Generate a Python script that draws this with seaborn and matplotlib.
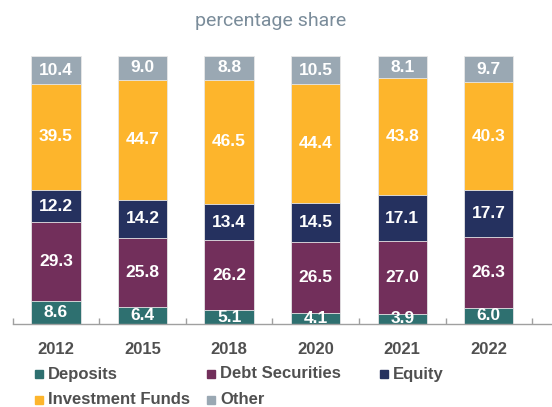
import numpy as np
import pandas as pd
import matplotlib
matplotlib.use("Agg")
import matplotlib.pyplot as plt
import seaborn as sns
from matplotlib.patches import Rectangle

years = ["2012", "2015", "2018", "2020", "2021", "2022"]
deposits = [8.6, 6.4, 5.1, 4.1, 3.9, 6.0]
debt_securities = [29.3, 25.8, 26.2, 26.5, 27.0, 26.3]
equity = [12.2, 14.2, 13.4, 14.5, 17.1, 17.7]
investment_funds = [39.5, 44.7, 46.5, 44.4, 43.8, 40.3]
other = [10.4, 9.0, 8.8, 10.5, 8.1, 9.7]

series_names = ["Deposits", "Debt Securities", "Equity", "Investment Funds", "Other"]
series_vals = [deposits, debt_securities, equity, investment_funds, other]
colors = ["#2e7070", "#722f5b", "#25315f", "#fdb52c", "#9aa8b3"]

sns.set_theme(style="white")
plt.rcParams['font.family'] = ['Liberation Sans', 'DejaVu Sans']

W, H = 552, 407
fig = plt.figure(figsize=(W / 100, H / 100), dpi=100)
ax = fig.add_axes([0.023, 0.204, 0.977, 0.658])

vals = np.array(series_vals)
cum = np.cumsum(vals, axis=0)
bottoms = cum - vals

# draw cumulative bars from top series down so lower ones overlay
for i in range(len(series_names) - 1, -1, -1):
    df = pd.DataFrame({"year": years, "value": cum[i]})
    sns.barplot(data=df, x="year", y="value", color=colors[i], width=0.57,
                saturation=1, ax=ax, edgecolor="#e8e8e8", linewidth=0.6)

for i in range(len(series_names)):
    for j in range(len(years)):
        ax.text(j, bottoms[i, j] + vals[i, j] / 2, f"{vals[i, j]:.1f}",
                ha="center", va="center", color="white", fontsize=12.5,
                fontweight="bold", clip_on=True)

ax.set_xlim(-0.5, 5.73)
ax.set_ylim(0, 100)
ax.set_xlabel("")
ax.set_ylabel("")
ax.set_yticks([])
for s in ["top", "right", "left"]:
    ax.spines[s].set_visible(False)
ax.spines["bottom"].set_color("#a0a0a0")
ax.spines["bottom"].set_linewidth(1.0)

ax.set_xticks(range(len(years)))
ax.set_xticklabels(years, fontsize=12, fontweight="bold", color="#505050")
ax.tick_params(axis="x", which="major", length=0, pad=13)
ax.set_xticks(np.arange(-0.5, 5.6, 1.0), minor=True)
ax.tick_params(axis="x", which="minor", direction="in", length=4, width=1,
               color="#a0a0a0", bottom=True)

fig.text(271 / W, 1 - 21 / H, "percentage share", ha="center", va="center",
         fontsize=14, color="#7a8c9a", family="Roboto")

# manual legend laid out like the reference (row-wise, fixed columns)
leg_pos = [(35, 374), (207, 374), (380, 374), (35, 400), (207, 400)]
for (px, py), name, c in zip(leg_pos, series_names, colors):
    fig.patches.append(Rectangle((px / W, 1 - (py + 4) / H), 8 / W, 8 / H,
                                 transform=fig.transFigure, color=c,
                                 figure=fig))
    fig.text((px + 13) / W, 1 - py / H, name, ha="left", va="center",
             fontsize=12, fontweight="bold", color="#505050")

fig.savefig("out.png", dpi=100)
